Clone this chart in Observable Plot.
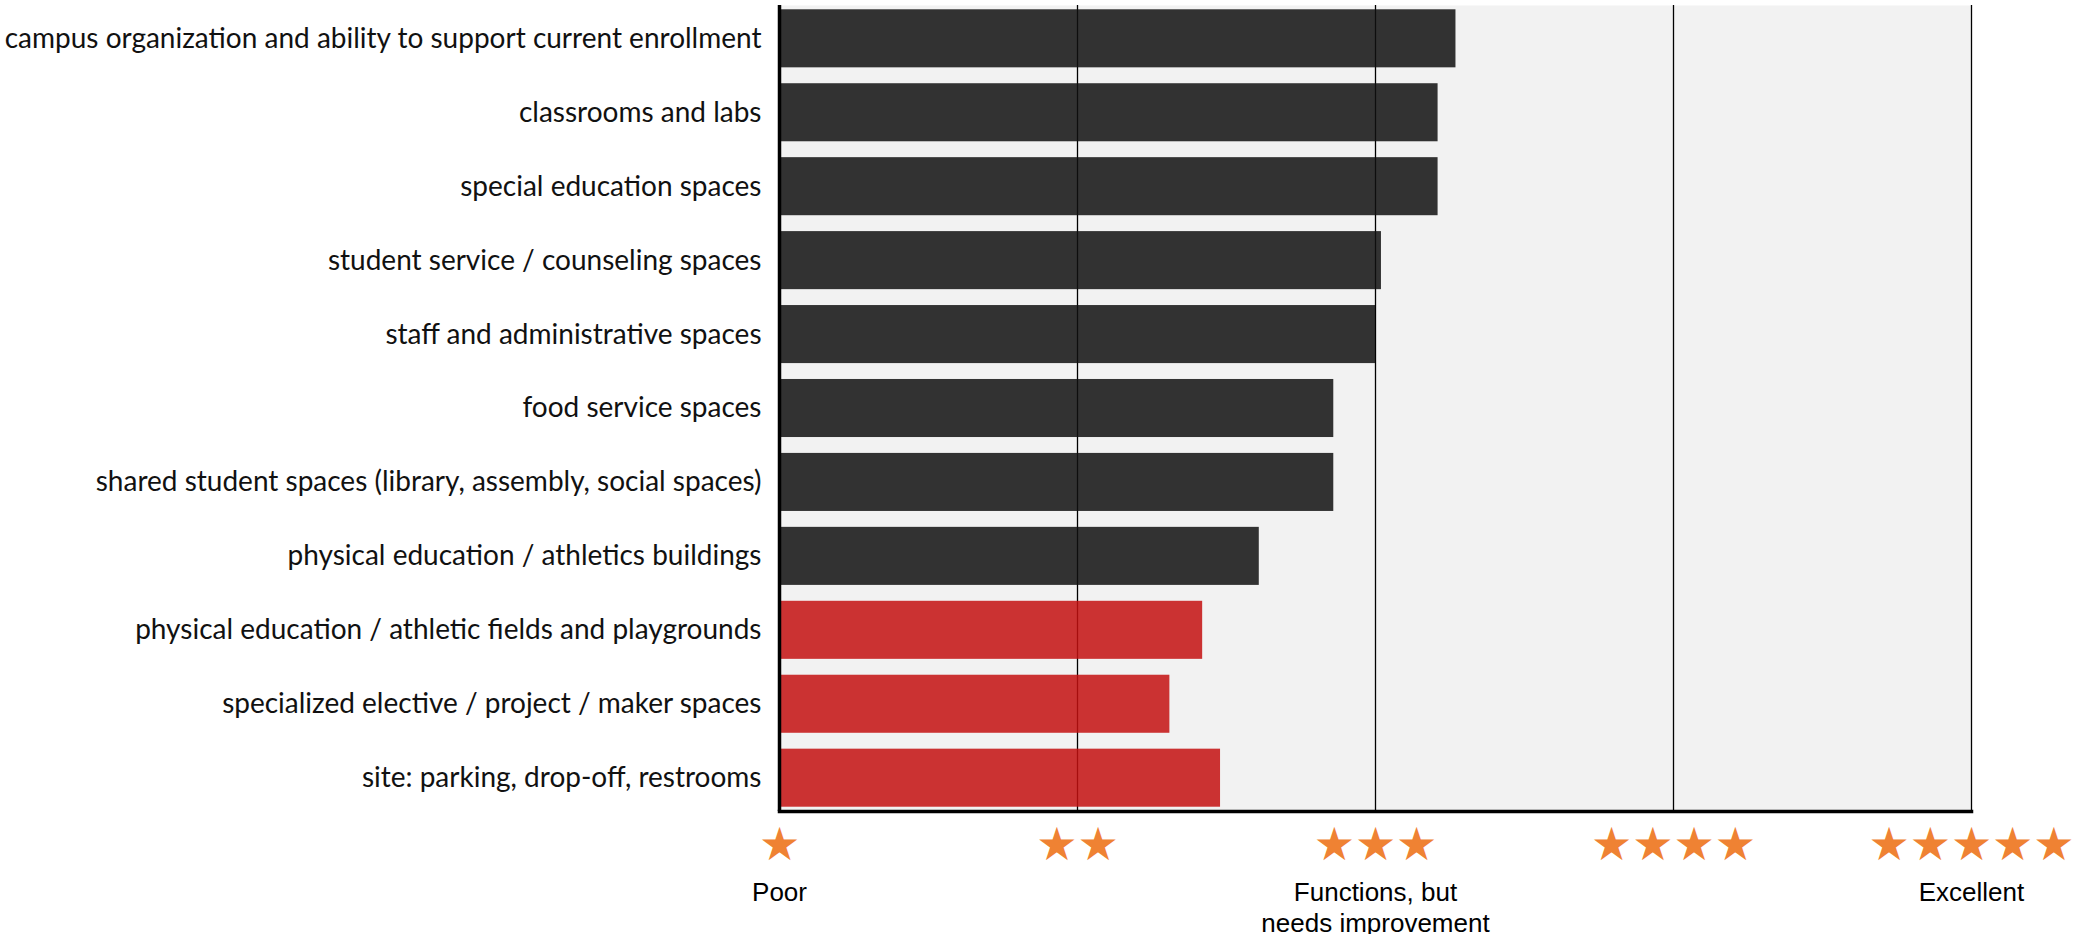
<!DOCTYPE html>
<html>
<head>
<meta charset="utf-8">
<script src="https://cdn.jsdelivr.net/npm/d3@7"></script>
<script src="https://cdn.jsdelivr.net/npm/@observablehq/plot@0.6"></script>
<style>
  html, body { margin: 0; padding: 0; background: #fff; }
  #chart svg { display: block; overflow: visible; }
</style>
</head>
<body>
<div id="chart"></div>
<script>
const categories = [
  "campus organization and ability to support current enrollment",
  "classrooms and labs",
  "special education spaces",
  "student service / counseling spaces",
  "staff and administrative spaces",
  "food service spaces",
  "shared student spaces (library, assembly, social spaces)",
  "physical education / athletics buildings",
  "physical education / athletic fields and playgrounds",
  "specialized elective / project / maker spaces",
  "site: parking, drop-off, restrooms"
];
const ratings = [3.27, 3.21, 3.21, 3.02, 3.00, 2.86, 2.86, 2.61, 2.42, 2.31, 2.48];
const flagged = [false, false, false, false, false, false, false, false, true, true, true];
const levels = [1, 2, 3, 4, 5];
const levelWords = {1: "Poor", 3: "Functions, but\nneeds improvement", 5: "Excellent"};
const baseline = 1;

const data = categories.map((c, i) => ({category: c, rating: ratings[i], flagged: flagged[i]}));
const wordLevels = levels.filter(v => levelWords[v]);

const chart = Plot.plot({
  width: 2074,
  height: 934,
  marginLeft: 779,
  marginRight: 103,
  marginTop: 5,
  marginBottom: 123,
  style: {background: "#ffffff", color: "#111"},
  x: {domain: [1, 5], axis: null},
  y: {domain: categories, paddingInner: 0.215, paddingOuter: 0.058, round: false, axis: null},
  color: {domain: [false, true], range: ["#101010", "#c41010"]},
  marks: [
    Plot.frame({fill: "#f2f2f2", stroke: null}),
    Plot.ruleX(levels.filter(v => v > baseline), {stroke: "#000", strokeWidth: 1.3}),
    Plot.barX(data, {y: "category", x1: () => baseline, x2: "rating", fill: "flagged", fillOpacity: 0.85}),
    Plot.ruleX([baseline], {stroke: "#000", strokeWidth: 3.5}),
    Plot.frame({anchor: "bottom", stroke: "#000", strokeWidth: 3.5}),
    Plot.axisY({tickSize: 0, tickPadding: 18, fontSize: 28, fontFamily: "Lato", fill: "#111", label: null}),
    Plot.text(levels, {x: d => d, text: d => "★".repeat(d), frameAnchor: "bottom", dy: 34, lineAnchor: "middle",
      fill: "#ef8233", fontSize: 46, fontFamily: "DejaVu Sans"}),
    Plot.text(wordLevels, {x: d => d, text: d => levelWords[d], frameAnchor: "bottom", dy: 68, lineAnchor: "top",
      fill: "#000", fontSize: 26, fontFamily: "Liberation Sans", lineHeight: 1.18})
  ]
});
document.getElementById("chart").appendChild(chart);
</script>
</body>
</html>
